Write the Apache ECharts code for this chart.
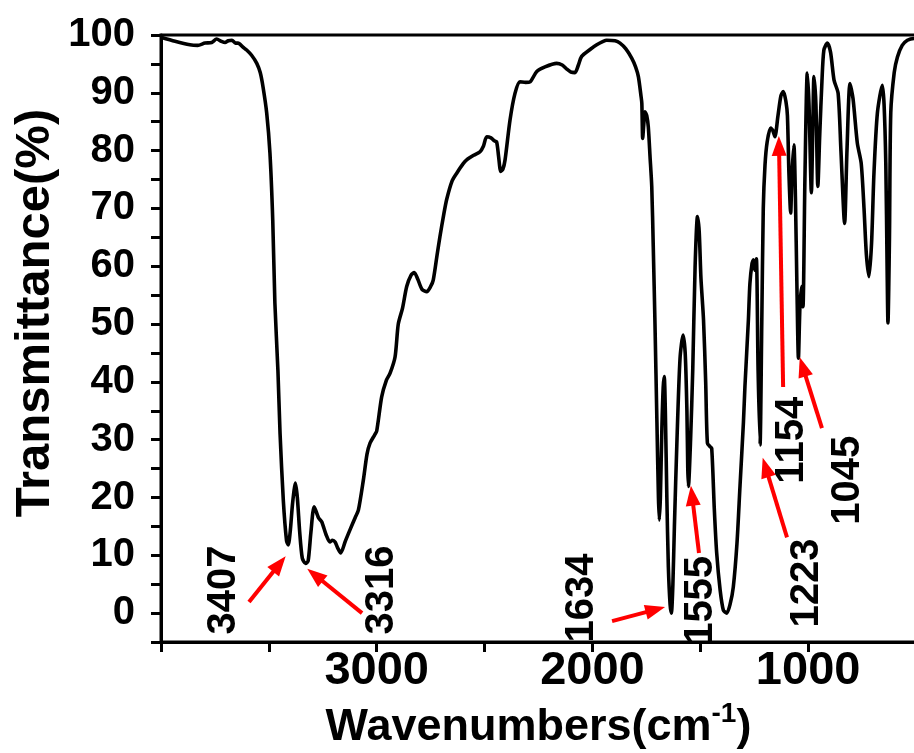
<!DOCTYPE html>
<html><head><meta charset="utf-8">
<script src="https://cdn.jsdelivr.net/npm/echarts@6/dist/echarts.min.js"></script>
<style>html,body{margin:0;padding:0;background:#fff}#c{width:914px;height:753px}</style>
</head><body><div id="c"></div>
<script>
const wavenumbers = [4000,3935,3866,3830,3796,3765,3742,3720,3703,3688,3671,3655,3643,3620,3603,3580,3556,3540,3527,3510,3495,3482,3472,3458,3448,3433,3418,3410,3400,3390,3377,3368,3357,3345,3330,3318,3305,3290,3270,3255,3235,3217,3205,3193,3180,3167,3145,3124,3100,3085,3062,3045,3031,3010,3000,2977,2955,2938,2915,2900,2880,2861,2840,2826,2810,2790,2768,2750,2738,2720,2707,2690,2676,2650,2629,2600,2583,2550,2521,2505,2490,2470,2455,2444,2435,2425,2415,2405,2382,2359,2336,2310,2289,2258,2220,2166,2140,2119,2100,2081,2065,2050,2011,1980,1950,1934,1895,1872,1845,1818,1800,1787,1775,1771,1767,1762,1756,1748,1741,1733,1725,1718,1710,1701,1694,1690,1685,1678,1672,1667,1662,1655,1648,1640,1634,1627,1620,1608,1594,1580,1570,1562,1558,1555,1545,1535,1524,1513,1505,1497,1485,1475,1467,1455,1447,1435,1424,1408,1393,1377,1362,1347,1330,1316,1300,1293,1277,1270,1260,1254,1247,1240,1232,1223,1215,1208,1200,1190,1174,1164,1154,1140,1126,1115,1103,1096,1089,1081,1075,1066,1059,1052,1045,1038,1030,1024,1015,1004,996,985,978,973,964,955,946,936,927,911,896,880,861,848,831,820,806,792,772,754,741,730,718,706,695,679,656,648,640,634,630,623,617,601,586,564,540,509,500];
const transmittance = [99.6,98.9,98.3,98.2,98.6,98.7,99.3,98.9,98.7,99.0,99.1,98.6,98.6,97.9,97.4,96.5,95.1,93.5,91.0,86.5,79.6,68.0,53.6,42.0,31.0,19.5,12.5,11.8,14.5,19,22.5,20,14,9.5,8.6,9,14,18.4,16.5,15.8,13.6,12.3,12.6,12.3,11.2,10.4,12.5,14.4,16.5,17.8,23.0,27.5,29.4,30.8,31.5,37.4,40.3,41.5,44.3,50.0,52.8,56.5,58.5,58.9,57.8,56.0,55.6,56.5,57.6,62.0,65.1,68.8,71.5,74.8,76.1,77.7,78.4,79.2,79.8,80.8,82.4,82.2,81.7,81.5,79,76.4,76.8,78.4,85.3,89.9,91.9,91.8,91.9,93.7,94.5,95.1,94.8,94.1,93.6,93.5,94.8,96.3,97.5,98.3,98.9,99.1,99.0,98.6,97.6,96.0,94.5,92.8,89.5,88.2,82.1,84.5,86.7,86.0,84.1,79.0,73.8,63.4,50.0,33.0,20.0,16.1,20.0,32.0,39.0,40.9,35.0,20.0,8.0,1.5,0.0,5.0,15.0,30.0,44.0,48.1,45.0,35.0,25.0,21.9,30.0,42.0,60.0,68.6,66.0,58.0,50.7,40.0,29.4,28.8,28.5,18.0,10.4,4.0,0.5,0.0,1.5,4.5,12.0,21.9,33.0,39.2,50.7,57.0,60.5,61.1,59.3,61.3,42.0,29.1,50.0,70.0,77.5,81.5,83.9,83.5,82.4,86.0,89.5,90.2,88.5,86.0,76.0,69.2,76.0,81.0,72.0,56.5,44.1,53.0,56.5,53.0,75.0,93.4,88.0,72.7,85.0,92.8,88.0,73.8,83.0,92.0,97.4,98.6,97.0,92.2,89.9,80.0,67.4,80.0,91.6,89.0,81.3,77.8,70.0,62.0,58.2,64.0,76.0,86.5,91.3,88.0,77.8,60.0,50.2,65.0,86.5,93.5,96.2,98.2,99.1,99.4,99.4];

const xTickLabels = [3000, 2000, 1000];
const yTickLabels = [0, 10, 20, 30, 40, 50, 60, 70, 80, 90, 100];

const peakLabels = ['3407', '3316', '1634', '1555', '1223', '1154', '1045'];
const peakLabelWn = [3708, 2975, 2048, 1497, 1005, 1075, 815];
const peakLabelT = [4.0, 4.0, 2.6, 2.2, 5.2, 29.9, 23.0];
const arrowStart = [[3592, 1.9], [3068, 0], [1909, -1.4], [1506, 10.4], [1098, 13.1], [1116, 39.1], [936, 32.0]];
const arrowEnd = [[3451, 8.5], [3286, 6.6], [1708, 0.6], [1538, 20.3], [1197, 25.2], [1135, 80.8], [1025, 42.6]];

const FONT = "'Liberation Sans', Arial, sans-serif";
const spectrum = wavenumbers.map((w, i) => [w, transmittance[i]]);
const labelData = peakLabels.map((t, i) => [peakLabelWn[i], peakLabelT[i], t]);
const arrows = arrowStart.map((s, i) => [{ coord: s }, { coord: arrowEnd[i] }]);

const chart = echarts.init(document.getElementById('c'));
chart.setOption({
  animation: false,
  backgroundColor: '#fff',
  grid: { left: 161, right: -2, top: 35, bottom: 111, containLabel: false, outerBoundsMode: 'none',
          show: true, borderColor: '#000', borderWidth: 3, backgroundColor: 'transparent' },
  xAxis: {
    type: 'value', inverse: true, min: 500, max: 4000, interval: 500,
    axisLine: { show: true, onZero: false, lineStyle: { color: '#000', width: 3 } },
    axisTick: { show: true, inside: false, length: 10, lineStyle: { color: '#000', width: 3 } },
    splitLine: { show: false },
    axisLabel: { margin: 6, color: '#000', fontSize: 47, fontWeight: 'bold', fontFamily: FONT,
      formatter: v => xTickLabels.includes(v) ? String(v) : '' },
    name: '{a|Wavenumbers(cm}{b|-1}{a|)}',
    nameLocation: 'middle', nameGap: 58,
    nameTextStyle: { rich: {
      a: { fontSize: 45, fontWeight: 'bold', fontFamily: FONT, color: '#000', lineHeight: 56 },
      b: { fontSize: 28, fontWeight: 'bold', fontFamily: FONT, color: '#000', lineHeight: 20, verticalAlign: 'top' }
    } }
  },
  yAxis: {
    type: 'value', min: -5, max: 100, interval: 5,
    axisLine: { show: true, onZero: false, lineStyle: { color: '#000', width: 3 } },
    axisTick: { show: true, inside: false, length: 10, lineStyle: { color: '#000', width: 3 } },
    splitLine: { show: false },
    axisLabel: { margin: 26, color: '#000', fontSize: 40, fontWeight: 'bold', fontFamily: FONT,
      formatter: v => yTickLabels.includes(v) ? String(v) : '' }
  },
  graphic: [{
    type: 'text', x: 35, y: 313, rotation: Math.PI / 2,
    style: { text: 'Transmittance(%)', fontSize: 49, fontWeight: 'bold', fontFamily: FONT, fill: '#000',
             align: 'center', verticalAlign: 'middle' }
  }],
  series: [{
    type: 'line', data: spectrum, showSymbol: false, symbol: 'none', smooth: 0.25,
    lineStyle: { color: '#000', width: 3.6 }, silent: true, z: 3,
    markLine: {
      silent: true, symbol: ['none', 'triangle'], symbolSize: [15, 20], precision: 1,
      label: { show: false }, emphasis: { disabled: true },
      itemStyle: { color: '#ff0000' },
      lineStyle: { color: '#ff0000', width: 4, type: 'solid' },
      data: arrows
    }
  }, {
    type: 'scatter', data: labelData, symbolSize: 0, itemStyle: { color: '#000', opacity: 1 }, silent: true, z: 4,
    label: { show: true, position: 'inside', rotate: 90, formatter: p => p.value[2], opacity: 1,
             color: '#000', textBorderWidth: 0, fontSize: 40, fontWeight: 'bold', fontFamily: FONT }
  }]
});
</script></body></html>
